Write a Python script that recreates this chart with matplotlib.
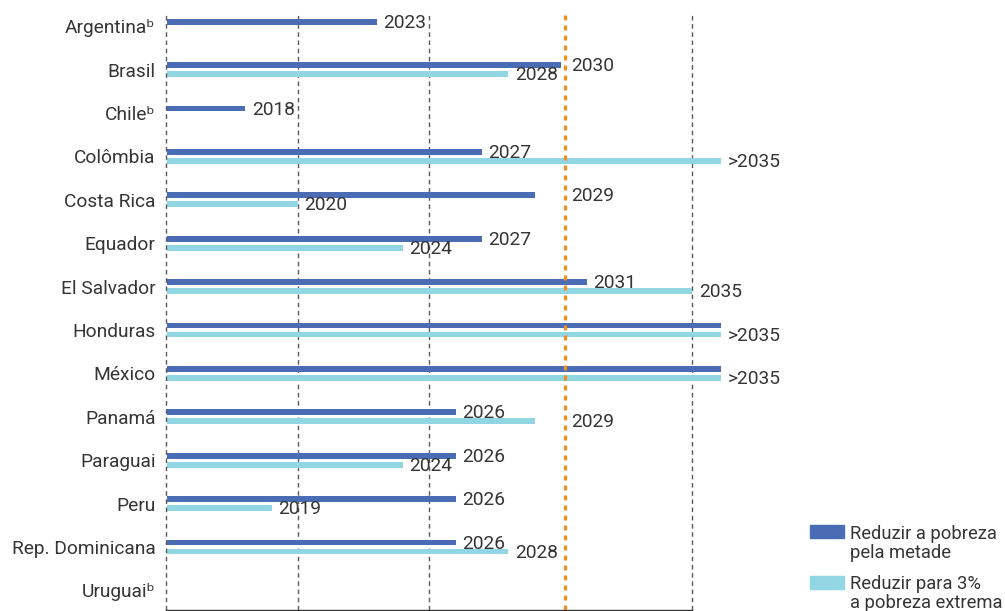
import matplotlib
matplotlib.use('Agg')
import matplotlib.pyplot as plt
from matplotlib.patches import Rectangle
import matplotlib.transforms as mtransforms
import numpy as np

plt.rcParams['font.family'] = ['Roboto', 'DejaVu Sans']
plt.rcParams['lines.scale_dashes'] = False

# ---- data ----
countries = ['Argentinaᵇ', 'Brasil', 'Chileᵇ', 'Colômbia', 'Costa Rica', 'Equador',
             'El Salvador', 'Honduras', 'México', 'Panamá', 'Paraguai', 'Peru',
             'Rep. Dominicana', 'Uruguaiᵇ']
# year in which the goal is reached (">2035" drawn just past 2035)
halve_years = [2023, 2030, 2018, 2027, 2029, 2027, 2031, 2036.1, 2036.1,
               2026, 2026, 2026, 2026, None]
extreme_years = [None, 2028, None, 2036.1, 2020, 2024, 2035, 2036.1, 2036.1,
                 2029, 2024, 2019, 2028, None]
halve_labels = ['2023', '2030', '2018', '2027', '2029', '2027', '2031', '', '',
                '2026', '2026', '2026', '2026', '']
extreme_labels = ['', '2028', '', '>2035', '2020', '2024', '2035', '>2035', '>2035',
                  '2029', '2024', '2019', '2028', '']
legend_labels = ['Reduzir a pobreza\npela metade', 'Reduzir para 3%\na pobreza extrema']
base_year = 2015
grid_years = [2015, 2020, 2025, 2035]
target_year = 2030

# ---- style ----
BLUE = '#4a6cb4'
CYAN = '#92d6e3'
ORANGE = '#f0901e'
GRID = '#5a5a5a'
TEXT = '#353535'
FS = 13.8
LEG_FS = 13.2

W, H = 1005, 611
fig = plt.figure(figsize=(W / 100, H / 100), dpi=100)
ax = fig.add_axes([166.5 / W, 1 - 609.5 / H, 657.5 / W, (609.5 - 14) / H])

n = len(countries)
y = np.arange(n)
off = 0.104
bh = 0.135

hv = np.array([np.nan if v is None else v for v in halve_years], dtype=float)
ev = np.array([np.nan if v is None else v for v in extreme_years], dtype=float)
mh = ~np.isnan(hv)
me = ~np.isnan(ev)

ax.barh(y[mh] - off, hv[mh] - base_year, left=base_year, height=bh,
        color=BLUE, linewidth=0, zorder=3)
ax.barh(y[me] + off, ev[me] - base_year, left=base_year, height=bh,
        color=CYAN, linewidth=0, zorder=3)

# target line is drawn a few pixels to the right of 2030, as in the source
line_shift_pt = 2.6

def label_pos(v):
    if target_year - 1 <= v <= target_year:
        return target_year, 4.5 + line_shift_pt
    return v, 4.5

for i in range(n):
    if halve_labels[i]:
        xv, dx = label_pos(hv[i])
        ax.annotate(halve_labels[i], (xv, y[i] - off), xytext=(dx, -0.8),
                    textcoords='offset points', va='center', ha='left',
                    fontsize=FS, color=TEXT, zorder=5)
    if extreme_labels[i]:
        xv, dx = label_pos(ev[i])
        ax.annotate(extreme_labels[i], (xv, y[i] + off), xytext=(dx, -0.8),
                    textcoords='offset points', va='center', ha='left',
                    fontsize=FS, color=TEXT, zorder=5)

for g in grid_years:
    z = 4 if g == base_year else 1
    ax.axvline(g, color=GRID, lw=1.0, ls=(0, (3.3, 2.6)), zorder=z, clip_on=False)
shifted = mtransforms.offset_copy(ax.get_xaxis_transform(), fig=fig,
                                  x=line_shift_pt, y=0, units='points')
ax.plot([target_year, target_year], [0, 1], transform=shifted, color=ORANGE,
        lw=2.3, ls=(0, (3.6, 3.6)), zorder=4)

ax.set_xlim(base_year, 2040)
ax.set_ylim(13.44, -0.28)
ax.set_yticks(y)
ax.set_yticklabels(countries, fontsize=FS, color=TEXT)
ax.tick_params(axis='y', length=0, pad=8)
ax.set_xticks([])
for s in ['top', 'right', 'left']:
    ax.spines[s].set_visible(False)
ax.spines['bottom'].set_color('#333333')
ax.spines['bottom'].set_linewidth(1.0)
ax.spines['bottom'].set_bounds(base_year, 2035)
ax.spines['bottom'].set_zorder(5)

# ---- legend (manual, figure pixels) ----
leg_colors = [BLUE, CYAN]
leg_tops = [525, 576]
leg_last_baselines = [558, 607.5]
for c, top, bl, lab in zip(leg_colors, leg_tops, leg_last_baselines, legend_labels):
    fig.add_artist(Rectangle((810 / W, 1 - (top + 13) / H), 34 / W, 13 / H,
                             transform=fig.transFigure, color=c))
    fig.text(850 / W, 1 - bl / H, lab, va='baseline', ha='left',
             fontsize=LEG_FS, color=TEXT, linespacing=1.05)

fig.savefig('out.png', dpi=100)
